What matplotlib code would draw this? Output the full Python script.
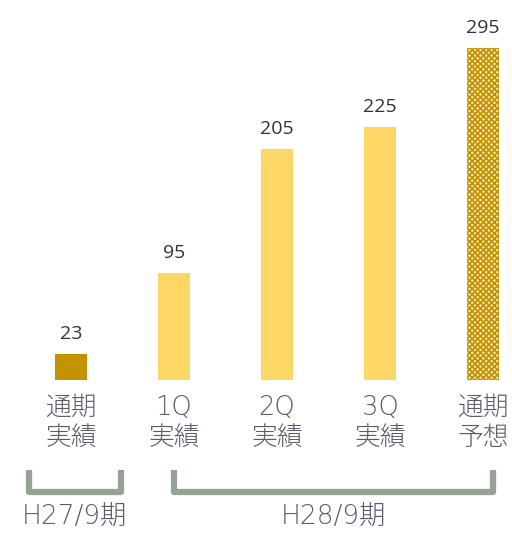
import matplotlib
matplotlib.use("Agg")
import matplotlib.pyplot as plt
import matplotlib.transforms as mtransforms

plt.rcParams["font.family"] = ["Noto Sans CJK JP", "DejaVu Sans"]
plt.rcParams["hatch.linewidth"] = 1.2

# ── Data ────────────────────────────────────────────────────────────────
categories = ["通期\n実績", "1Q\n実績", "2Q\n実績", "3Q\n実績", "通期\n予想"]
values = [23, 95, 205, 225, 295]
groups = ["H27/9期", "H28/9期"]
group_spans = [(0, 0), (1, 4)]

GOLD = "#c39200"
YELLOW = "#fdd766"
TEXT = "#5b5b6b"
BRACKET = "#95a395"
LABEL_FONT = ["DejaVu Sans", "Noto Sans CJK JP"]

fig = plt.figure(figsize=(5.12, 5.33), dpi=100)
ax = fig.add_axes([0, 153 / 533, 1, 380 / 533])
ax.set_xlim(-71 / 103, (512 - 71) / 103)
ax.set_ylim(0, 380 / 1.125)
ax.axis("off")

x = list(range(len(values)))
colors = [GOLD, YELLOW, YELLOW, YELLOW, "#f3e6b6"]
bars = ax.bar(x, values, width=0.32, color=colors, linewidth=0)
bars[-1].set_hatch("xxxxxx")
bars[-1].set_edgecolor(GOLD)

for xi, v in zip(x, values):
    ax.annotate(str(v), (xi, v), xytext=(0, 8), textcoords="offset points",
                ha="center", va="bottom", fontsize=14, color="#333333",
                family="Open Sans")

trans = mtransforms.blended_transform_factory(ax.transData, ax.transAxes)
for xi, lab in zip(x, categories):
    top, bot = lab.split("\n")
    ax.text(xi, -0.072, top, transform=trans, ha="center", va="center",
            fontsize=18.5, color=TEXT, fontweight="light", family=LABEL_FONT)
    ax.text(xi, -0.152, bot, transform=trans, ha="center", va="center",
            fontsize=18.5, color=TEXT, fontweight="light", family=LABEL_FONT)

# group brackets
for (a, b), g in zip(group_spans, groups):
    if a == b:
        x0, x1 = a - 0.41, b + 0.485
    else:
        x0, x1 = a, b + 0.10
    ax.plot([x0, x0, x1, x1], [-0.237, -0.295, -0.295, -0.237], transform=trans,
            color=BRACKET, linewidth=4.5, solid_joinstyle="round",
            solid_capstyle="butt", clip_on=False)
    ax.text((x0 + x1) / 2, -0.362, g, transform=trans, ha="center", va="center",
            fontsize=19, color=TEXT, fontweight="light", family=LABEL_FONT)

fig.savefig("out.png", dpi=100)
